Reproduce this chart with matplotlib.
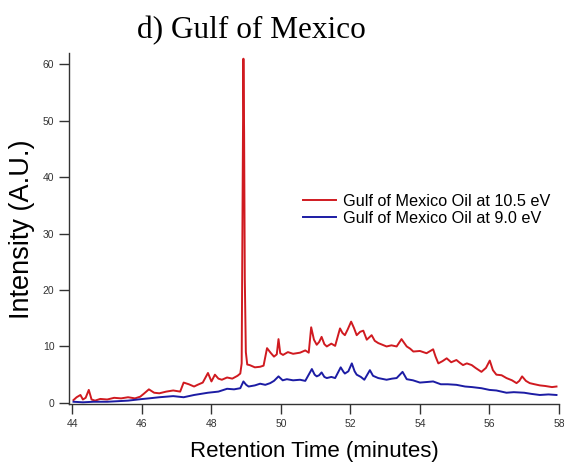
import matplotlib
matplotlib.use('Agg')
import matplotlib.pyplot as plt

# retention time (minutes) and intensity
red_t = [44.03, 44.12, 44.23, 44.30, 44.38, 44.47, 44.55, 44.65, 44.8, 45.0, 45.2, 45.4,
         45.6, 45.8, 45.95, 46.05, 46.2, 46.35, 46.5, 46.7, 46.9, 47.1, 47.2, 47.35,
         47.5, 47.6, 47.75, 47.9, 48.0, 48.1, 48.2, 48.3, 48.45, 48.6, 48.75, 48.83,
         48.87, 48.90, 48.92, 48.94, 48.96, 48.99, 49.03, 49.1, 49.25, 49.4, 49.5,
         49.6, 49.7, 49.8, 49.88, 49.93, 49.98, 50.06, 50.2, 50.35, 50.55, 50.7,
         50.8, 50.87, 50.95, 51.03, 51.1, 51.17, 51.25, 51.32, 51.45, 51.56, 51.7,
         51.77, 51.84, 51.92, 52.02, 52.1, 52.18, 52.28, 52.37, 52.47, 52.54, 52.61,
         52.7, 52.8, 52.92, 53.04, 53.18, 53.33, 53.47, 53.55, 53.62, 53.72, 53.81,
         54.0, 54.19, 54.38, 54.45, 54.53, 54.65, 54.77, 54.9, 55.05, 55.15, 55.24,
         55.35, 55.49, 55.6, 55.77, 55.9, 56.01, 56.1, 56.2, 56.35, 56.49, 56.65,
         56.78, 56.86, 56.94, 57.05, 57.16, 57.3, 57.45, 57.6, 57.8, 57.93]
red_i = [0.5, 1.0, 1.4, 0.6, 0.9, 2.3, 0.6, 0.4, 0.7, 0.6, 0.9, 0.8,
         1.0, 0.8, 1.1, 1.6, 2.4, 1.8, 1.7, 2.0, 2.2, 2.0, 3.6, 3.3,
         2.9, 3.2, 3.6, 5.3, 3.8, 5.0, 4.3, 4.1, 4.5, 4.3, 4.8, 5.2,
         7.0, 40.0, 61.0, 48.0, 22.0, 9.0, 6.8, 6.7, 6.3, 6.4, 6.6,
         9.7, 8.9, 8.2, 8.6, 11.3, 8.8, 8.5, 9.0, 8.7, 8.9, 9.3,
         8.9, 13.4, 11.2, 10.3, 10.8, 11.7, 10.4, 10.0, 10.5, 10.1, 13.2,
         12.4, 12.0, 13.0, 14.4, 13.3, 12.0, 12.6, 12.8, 11.2, 11.6, 12.0,
         11.0, 10.6, 10.3, 10.0, 10.2, 10.0, 11.3, 10.6, 10.0, 9.6, 9.1,
         9.2, 8.8, 9.5, 8.2, 7.0, 7.4, 7.9, 7.2, 7.6, 7.1, 6.7,
         7.0, 6.7, 6.2, 5.5, 6.2, 7.5, 5.8, 5.0, 4.9, 4.4, 4.0,
         3.5, 3.9, 4.7, 3.9, 3.5, 3.3, 3.1, 3.0, 2.8, 2.9]

blue_t = [44.03, 44.3, 44.6, 45.0, 45.3, 45.6, 45.95, 46.2, 46.5, 46.9, 47.2, 47.5,
          47.9, 48.2, 48.45, 48.65, 48.83, 48.92, 49.0, 49.07, 49.25, 49.4, 49.55,
          49.69, 49.8, 49.93, 50.05, 50.17, 50.35, 50.55, 50.7, 50.89, 50.97, 51.03,
          51.1, 51.17, 51.25, 51.32, 51.45, 51.56, 51.72, 51.8, 51.84, 51.94, 52.04,
          52.12, 52.18, 52.3, 52.4, 52.56, 52.65, 52.8, 53.04, 53.2, 53.33, 53.5,
          53.62, 53.8, 54.0, 54.2, 54.38, 54.6, 54.8, 55.05, 55.3, 55.5, 55.77,
          56.0, 56.2, 56.49, 56.7, 57.0, 57.2, 57.45, 57.7, 57.93]
blue_i = [0.2, 0.1, 0.2, 0.2, 0.3, 0.4, 0.65, 0.8, 1.0, 1.2, 1.0, 1.4,
          1.8, 2.0, 2.5, 2.4, 2.6, 3.8, 3.2, 2.9, 3.1, 3.4, 3.2,
          3.5, 3.9, 4.7, 4.0, 4.2, 4.0, 4.1, 3.9, 6.0, 5.0, 4.7,
          4.9, 5.4, 4.6, 4.4, 4.6, 4.4, 6.3, 5.5, 5.2, 5.6, 7.0,
          5.6, 5.0, 4.6, 4.1, 5.8, 4.8, 4.4, 4.1, 4.3, 4.4, 5.5,
          4.2, 4.0, 3.6, 3.7, 3.8, 3.3, 3.3, 3.2, 2.9, 2.8, 2.6,
          2.3, 2.2, 1.8, 1.9, 1.8, 1.6, 1.4, 1.5, 1.4]

x_ticks = [44, 46, 48, 50, 52, 54, 56, 58]
y_ticks = [0, 10, 20, 30, 40, 50, 60]


def main():
  fig = plt.figure(figsize=(5.64, 4.63), dpi=100)
  ax = fig.add_axes([0.1223, 0.1274, 0.8687, 0.758])

  ax.plot(red_t, red_i, color='#d01a20', lw=1.4, label='Gulf of Mexico Oil at 10.5 eV')
  ax.plot(blue_t, blue_i, color='#1c1ca4', lw=1.4, label='Gulf of Mexico Oil at 9.0 eV')

  ax.set_xlim(43.9, 58.0)
  ax.set_ylim(-0.2, 62)
  ax.set_xticks(x_ticks)
  ax.set_yticks(y_ticks)
  ax.spines['top'].set_visible(False)
  ax.spines['right'].set_visible(False)
  for s in ('left', 'bottom'):
    ax.spines[s].set_color('#333333')
    ax.spines[s].set_linewidth(1.0)
  ax.tick_params(direction='out', length=7, width=1.0, color='#333333',
                 labelsize=7.5, labelcolor='#333333')
  for lab in ax.get_xticklabels() + ax.get_yticklabels():
    lab.set_family('Liberation Sans')

  ax.set_xlabel('Retention Time (minutes)', family='Liberation Sans', fontsize=16, labelpad=9)
  ax.set_ylabel('Intensity (A.U.)', family='Liberation Sans', fontsize=19.5, va='center')
  ax.yaxis.set_label_coords(22.5 / 564, 1 - 229 / 463, transform=fig.transFigure)

  fig.text(251 / 564, 1 - 31 / 463, 'd) Gulf of Mexico', family='Liberation Serif',
           fontsize=22.5, ha='center', va='center')

  ax.legend(loc='upper left', bbox_to_anchor=(303 / 564, 1 - 194 / 463),
            bbox_transform=fig.transFigure, frameon=False,
            prop={'family': 'Liberation Sans', 'size': 11.7}, handlelength=2.0,
            handletextpad=0.45, labelspacing=0.12, borderpad=0, borderaxespad=0)

  fig.savefig('out.png', dpi=100)


if __name__ == "__main__":
  main()
